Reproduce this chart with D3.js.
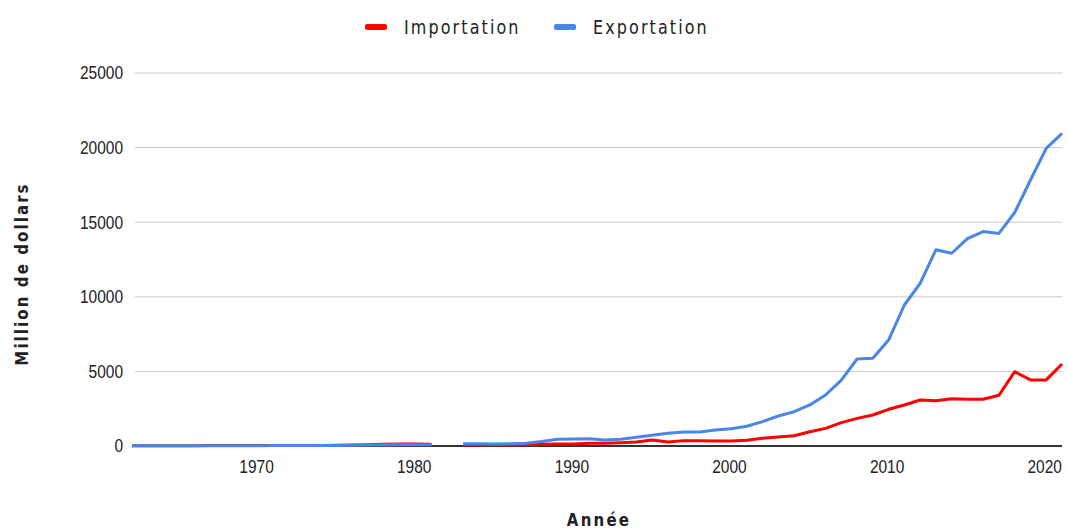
<!DOCTYPE html>
<html>
<head>
<meta charset="utf-8">
<script src="https://cdn.jsdelivr.net/npm/d3@7"></script>
<style>
  body { margin: 0; background: #fff; }
  svg text { font-family: "Liberation Sans", Arial, sans-serif; fill: #222; }
</style>
</head>
<body>
<div id="chart"></div>
<script>
// Years 1962-2021 (1982 has no value)
const years = [1962, 1963, 1964, 1965, 1966, 1967, 1968, 1969, 1970, 1971,
  1972, 1973, 1974, 1975, 1976, 1977, 1978, 1979, 1980, 1981,
  1982, 1983, 1984, 1985, 1986, 1987, 1988, 1989, 1990, 1991,
  1992, 1993, 1994, 1995, 1996, 1997, 1998, 1999, 2000, 2001,
  2002, 2003, 2004, 2005, 2006, 2007, 2008, 2009, 2010, 2011,
  2012, 2013, 2014, 2015, 2016, 2017, 2018, 2019, 2020, 2021];

const importation = [20, 20, 25, 25, 25, 30, 30, 30, 30, 35,
  35, 40, 40, 45, 60, 90, 120, 140, 130, 110,
  null, 60, 70, 80, 70, 90, 110, 135, 140, 180,
  180, 225, 270, 400, 270, 360, 360, 335, 340, 380,
  515, 600, 690, 950, 1180, 1570, 1850, 2080, 2460, 2750,
  3080, 3040, 3170, 3130, 3130, 3400, 4980, 4430, 4430, 5500];

const exportation = [15, 15, 20, 20, 20, 20, 25, 25, 25, 30,
  30, 30, 35, 35, 50, 60, 70, 80, 80, 80,
  null, 150, 150, 140, 150, 180, 300, 450, 470, 490,
  400, 450, 580, 715, 850, 940, 940, 1070, 1160, 1320,
  1630, 2010, 2300, 2750, 3420, 4420, 5830, 5875, 7100, 9450,
  10900, 13150, 12920, 13900, 14370, 14250, 15650, 17830, 19950, 20950];

const xTicks = [1970, 1980, 1990, 2000, 2010, 2020];
const yTicks = [0, 5000, 10000, 15000, 20000, 25000];

const series = [
  { name: 'Importation', values: importation, color: '#ff0000' },
  { name: 'Exportation', values: exportation, color: '#4a86e8' }
];

const width = 1068, height = 531;
const margin = { top: 73, right: 6, bottom: 85, left: 132 };
const stretch = 'scale(1,1.18)'; // the reference text is drawn tall and narrow

const svg = d3.select('#chart').append('svg')
  .attr('width', width)
  .attr('height', height);

const x = d3.scaleLinear()
  .domain([1962, 2021])
  .range([margin.left, width - margin.right]);

const y = d3.scaleLinear()
  .domain([0, 25000])
  .range([height - margin.bottom, margin.top]);

// gridlines
svg.append('g')
  .selectAll('line')
  .data(yTicks.filter(d => d > 0))
  .join('line')
  .attr('x1', 135)
  .attr('x2', width - margin.right)
  .attr('y1', d => y(d))
  .attr('y2', d => y(d))
  .attr('stroke', '#cccccc')
  .attr('stroke-width', 1);

// y axis labels
const yAxis = svg.append('g')
  .attr('transform', `translate(123,0)`)
  .call(d3.axisLeft(y).tickValues(yTicks).tickSize(0).tickFormat(d3.format('d')));
yAxis.select('.domain').remove();
yAxis.selectAll('text')
  .attr('x', 0)
  .attr('transform', stretch)
  .style('font-size', '15.5px')
  .style('font-family', '"Liberation Sans", Arial, sans-serif')
  .attr('fill', '#222');

// x axis labels
const xAxis = svg.append('g')
  .attr('transform', `translate(-2,${y(0)})`)
  .call(d3.axisBottom(x).tickValues(xTicks).tickSize(0).tickFormat(d3.format('d')));
xAxis.select('.domain').remove();
xAxis.selectAll('text')
  .attr('y', 0)
  .attr('dy', 0)
  .attr('transform', `translate(0,27) ${stretch}`)
  .style('font-size', '15.5px')
  .style('font-family', '"Liberation Sans", Arial, sans-serif')
  .attr('fill', '#222');

// baseline
svg.append('line')
  .attr('x1', 135)
  .attr('x2', width - margin.right)
  .attr('y1', y(0))
  .attr('y2', y(0))
  .attr('stroke', '#333')
  .attr('stroke-width', 2);

// lines
const line = d3.line()
  .defined(d => d[1] != null)
  .x(d => x(d[0]))
  .y(d => y(d[1]));

svg.append('g')
  .selectAll('path')
  .data(series)
  .join('path')
  .attr('d', s => line(years.map((yr, i) => [yr, s.values[i]])))
  .attr('fill', 'none')
  .attr('stroke', s => s.color)
  .attr('stroke-width', 3)
  .attr('stroke-linejoin', 'round');

// legend
const legendPos = [365, 554];
const legend = svg.append('g');
series.forEach((s, i) => {
  const g = legend.append('g').attr('transform', `translate(${legendPos[i]},27)`);
  g.append('rect')
    .attr('x', 0).attr('y', -3)
    .attr('width', 22).attr('height', 6)
    .attr('rx', 2)
    .attr('fill', s.color);
  g.append('text')
    .attr('x', 39).attr('y', 0)
    .attr('dy', '0.36em')
    .attr('transform', stretch)
    .style('font-size', '16px')
    .style('letter-spacing', '2.1px')
    .style('font-family', '"DejaVu Sans", sans-serif')
    .attr('fill', '#222')
    .text(s.name);
});

// axis titles
svg.append('text')
  .attr('transform', `translate(22,274) rotate(-90) ${stretch}`)
  .attr('text-anchor', 'middle')
  .attr('dy', '0.36em')
  .style('font-size', '15px')
  .style('font-weight', 'bold')
  .style('letter-spacing', '2.1px')
  .style('font-family', '"DejaVu Sans", sans-serif')
  .attr('fill', '#222')
  .text('Million de dollars');

svg.append('text')
  .attr('transform', `translate(599,520) ${stretch}`)
  .attr('text-anchor', 'middle')
  .attr('dy', '0.36em')
  .style('font-size', '15px')
  .style('font-weight', 'bold')
  .style('letter-spacing', '2.2px')
  .style('font-family', '"DejaVu Sans", sans-serif')
  .attr('fill', '#222')
  .text('Année');
</script>
</body>
</html>
